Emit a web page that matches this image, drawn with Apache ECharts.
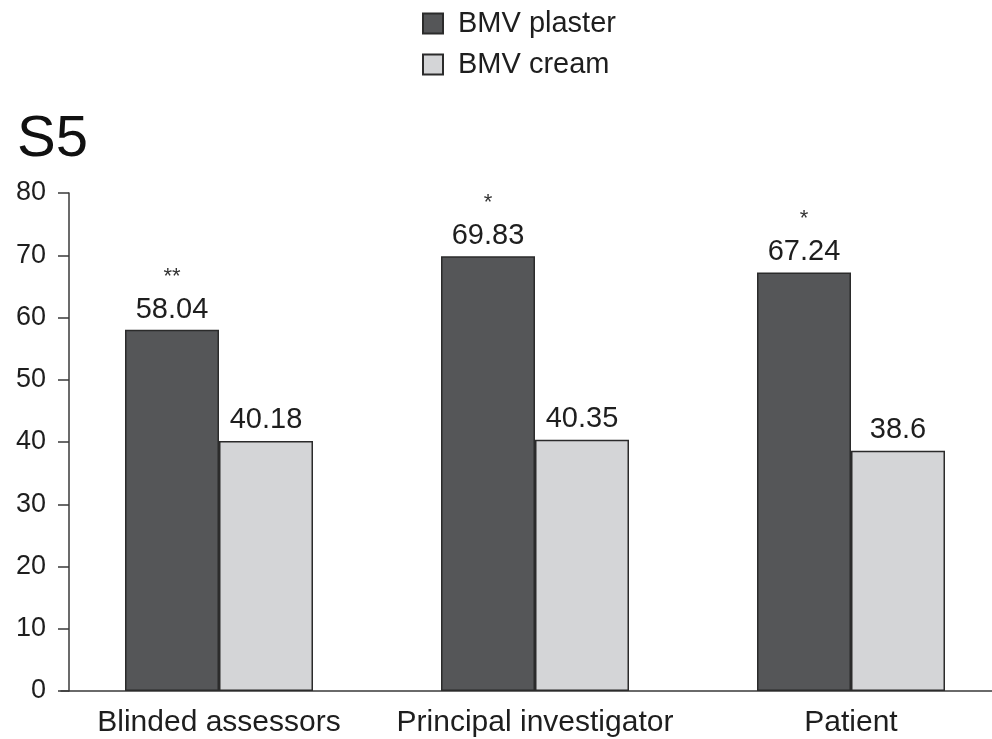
<!DOCTYPE html>
<html>
<head>
<meta charset="utf-8">
<script src="https://cdn.jsdelivr.net/npm/echarts@6/dist/echarts.min.js"></script>
<style>
  html, body { margin: 0; padding: 0; background: #fff; overflow: hidden; }
  /* canvas runs a little past the right edge so the x axis bleeds off the page */
  #chart { width: 1010px; height: 739px; }
</style>
</head>
<body>
<div id="chart"></div>
<script>
// Rater groups along the x axis
const categories = ['Blinded assessors', 'Principal investigator', 'Patient'];
// Scores per treatment
const plasterValues = [58.04, 69.83, 67.24];
const creamValues = [40.18, 40.35, 38.6];
// Significance markers shown above the plaster bars
const plasterMarks = ['**', '*', '*'];
// Y axis ticks
const yTicks = [0, 10, 20, 30, 40, 50, 60, 70, 80];

const FONT = '"Liberation Sans", Arial, Helvetica, sans-serif';
const TEXT = '#1e1e1e';
const chart = echarts.init(document.getElementById('chart'), null, { renderer: 'canvas' });

chart.setOption({
  animation: false,
  backgroundColor: '#ffffff',
  title: {
    text: 'S5',
    left: 12,
    top: 106,
    textStyle: { fontFamily: FONT, fontSize: 58, fontWeight: 'normal', color: '#111' }
  },
  legend: {
    orient: 'vertical',
    left: 422,
    top: 9,
    padding: 0,
    itemWidth: 20,
    itemHeight: 20,
    itemGap: 12,
    icon: 'rect',
    textStyle: { fontFamily: FONT, fontSize: 29, color: TEXT, padding: [0, 0, 0, 10] },
    data: ['BMV plaster', 'BMV cream']
  },
  grid: { left: 61, top: 193, width: 948, height: 498, containLabel: false },
  xAxis: {
    type: 'category',
    data: categories,
    axisLine: { show: true, lineStyle: { color: '#3a3a3a', width: 1.5 } },
    axisTick: { show: false },
    axisLabel: { interval: 0, fontFamily: FONT, fontSize: 30, color: TEXT, margin: 17 }
  },
  yAxis: {
    type: 'value',
    min: yTicks[0],
    max: yTicks[yTicks.length - 1],
    interval: 10,
    offset: -8,
    axisLine: { show: true, lineStyle: { color: '#3a3a3a', width: 1.5 } },
    axisTick: { show: true, length: 11, lineStyle: { color: '#3a3a3a', width: 1.5 } },
    splitLine: { show: false },
    axisLabel: { fontFamily: FONT, fontSize: 27, color: TEXT, margin: 23 }
  },
  series: [
    {
      name: 'BMV plaster',
      type: 'bar',
      barWidth: 94,
      barGap: '0%',
      data: plasterValues,
      itemStyle: { color: '#555658', borderColor: '#2b2b2b', borderWidth: 1.5 },
      label: {
        show: true,
        position: 'top',
        distance: 4,
        formatter: p => '{s|' + plasterMarks[p.dataIndex] + '}\n{v|' + p.value + '}',
        rich: {
          s: { fontFamily: FONT, fontSize: 22, color: '#333', lineHeight: 34, align: 'center' },
          v: { fontFamily: FONT, fontSize: 29, color: TEXT, lineHeight: 32, align: 'center' }
        }
      }
    },
    {
      name: 'BMV cream',
      type: 'bar',
      barWidth: 94,
      data: creamValues,
      itemStyle: { color: '#d4d5d7', borderColor: '#2b2b2b', borderWidth: 1.5 },
      label: {
        show: true,
        position: 'top',
        distance: 6,
        fontFamily: FONT,
        fontSize: 29,
        color: TEXT
      }
    }
  ]
});
</script>
</body>
</html>
